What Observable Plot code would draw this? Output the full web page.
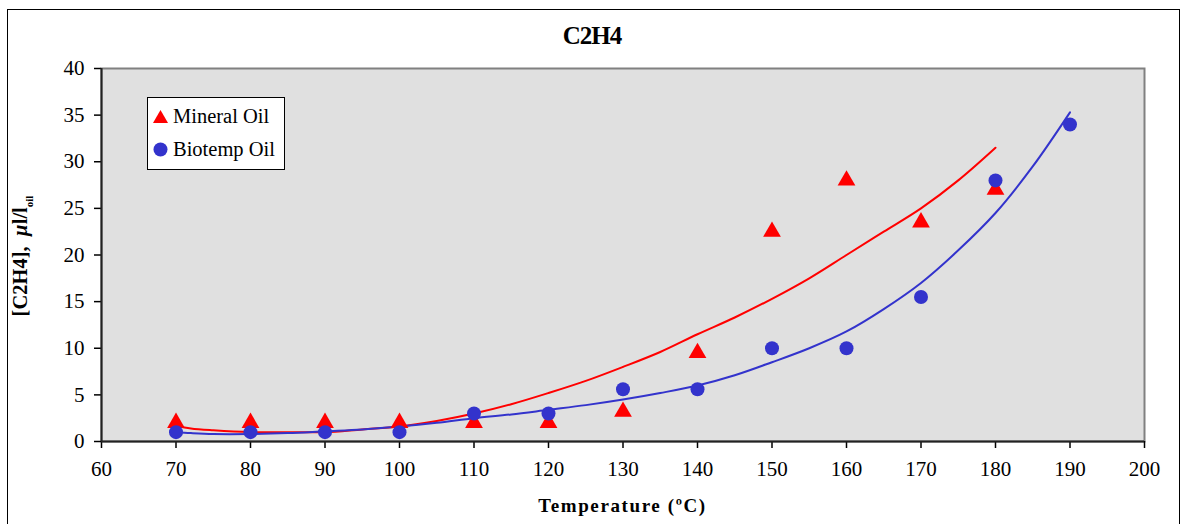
<!DOCTYPE html>
<html>
<head>
<meta charset="utf-8">
<script src="https://cdn.jsdelivr.net/npm/d3@7"></script>
<script src="https://cdn.jsdelivr.net/npm/@observablehq/plot@0.6"></script>
<style>
  html, body { margin: 0; padding: 0; background: #fff; }
  #wrap { position: relative; width: 1184px; height: 524px; overflow: hidden; font-family: "Liberation Serif", "Times New Roman", serif; }
  #chart svg text { font-family: "Liberation Serif", "Times New Roman", serif; font-size: 21px; fill: #000; }
  #border { position: absolute; left: 7px; top: 9px; width: 1173px; height: 520px; border: 1px solid #000; box-sizing: border-box; pointer-events: none; }
  #title { position: absolute; left: 0; width: 1184px; top: 22px; text-align: center; font-weight: bold; font-size: 25px; letter-spacing: -1px; }
  #xlabel { position: absolute; left: 101px; width: 1043px; top: 495px; text-align: center; font-weight: bold; font-size: 19px; letter-spacing: 1.6px; }
  #ylabel { position: absolute; left: 22px; top: 256px; transform: translate(-50%, -50%) rotate(-90deg); white-space: nowrap; font-weight: bold; font-size: 20.5px; }
  #ylabel sub { font-size: 11px; }
  #legend { position: absolute; left: 147px; top: 97px; width: 138px; height: 73px; background: #fff; border: 1px solid #000; box-sizing: border-box; font-size: 20.5px; }
  #legend .row { position: absolute; left: 5px; display: flex; align-items: center; }
  #legend .row span { margin-left: 5px; }
</style>
</head>
<body>
<div id="wrap">
  <div id="chart"></div>
  <div id="title">C2H4</div>
  <div id="xlabel">Temperature (ºC)</div>
  <div id="ylabel">[C2H4], &nbsp;<i>µ</i>l/l<sub>oil</sub></div>
  <div id="legend">
    <div class="row" style="top:7px"><svg width="15" height="15"><path d="M7.5,1 L15,14 L0,14 Z" fill="#ff0000"/></svg><span>Mineral Oil</span></div>
    <div class="row" style="top:40px"><svg width="15" height="15"><circle cx="7.5" cy="7.5" r="7" fill="#3333cc"/></svg><span>Biotemp Oil</span></div>
  </div>
  <div id="border"></div>
</div>
<script>
// Measured points
const mineralTemp = [70, 80, 90, 100, 110, 120, 130, 140, 150, 160, 170, 180];
const mineralVal  = [2.0, 2.0, 2.0, 2.0, 2.0, 2.0, 3.2, 9.5, 22.5, 28.0, 23.5, 27.0];
const biotempTemp = [70, 80, 90, 100, 110, 120, 130, 140, 150, 160, 170, 180, 190];
const biotempVal  = [1.0, 1.0, 1.0, 1.0, 3.0, 3.0, 5.6, 5.6, 10.0, 10.0, 15.5, 28.0, 34.0];

// Trend lines
const mineralTrendT = [70, 72, 75, 80, 85, 90, 95, 100, 105, 110, 115, 120, 125, 130, 135, 140, 145, 150, 155, 160, 165, 170, 175, 180];
const mineralTrendV = [1.7, 1.4, 1.2, 1.0, 1.0, 1.0, 1.3, 1.6, 2.2, 3.0, 4.0, 5.2, 6.5, 8.0, 9.6, 11.5, 13.3, 15.3, 17.5, 20.0, 22.5, 25.0, 28.0, 31.5];
const biotempTrendT = [70, 72, 75, 80, 85, 90, 95, 100, 105, 110, 115, 120, 125, 130, 135, 140, 145, 150, 155, 160, 165, 170, 175, 180, 185, 190];
const biotempTrendV = [1.0, 0.9, 0.8, 0.8, 0.9, 1.1, 1.3, 1.6, 2.0, 2.5, 2.9, 3.4, 3.9, 4.5, 5.2, 6.0, 7.1, 8.5, 10.0, 11.8, 14.2, 17.0, 20.5, 24.5, 29.5, 35.3];

const xTicks = [60, 70, 80, 90, 100, 110, 120, 130, 140, 150, 160, 170, 180, 190, 200];
const yTicks = [0, 5, 10, 15, 20, 25, 30, 35, 40];

const mineral = mineralTemp.map((t, i) => ({t, v: mineralVal[i]}));
const biotemp = biotempTemp.map((t, i) => ({t, v: biotempVal[i]}));
const mineralTrend = mineralTrendT.map((t, i) => ({t, v: mineralTrendV[i]}));
const biotempTrend = biotempTrendT.map((t, i) => ({t, v: biotempTrendV[i]}));

const RED = "#ff0000", BLUE = "#3333cc";

const chart = Plot.plot({
  width: 1184,
  height: 524,
  marginLeft: 101,
  marginRight: 40,
  marginTop: 68,
  marginBottom: 83,
  style: { fontFamily: "Liberation Serif, Times New Roman, serif", fontSize: "21px", background: "transparent", color: "#000" },
  x: { domain: [60, 200] },
  y: { domain: [0, 40] },
  marks: [
    Plot.frame({ fill: "#e0e0e0", stroke: "#808080", strokeWidth: 2 }),
    Plot.axisX({ ticks: xTicks, tickSize: 7, tickPadding: 13, label: null, tickFormat: d => String(d), stroke: "#000", strokeWidth: 1.5, fontSize: 21, fill: "#000" }),
    Plot.axisY({ ticks: yTicks, tickSize: 7, tickPadding: 10, label: null, tickFormat: d => String(d), stroke: "#000", strokeWidth: 1.5, fontSize: 21, fill: "#000" }),
    Plot.ruleX([60], { stroke: "#222", strokeWidth: 2 }),
    Plot.ruleY([0], { stroke: "#222", strokeWidth: 2 }),
    Plot.line(mineralTrend, { x: "t", y: "v", stroke: RED, strokeWidth: 2, curve: "catmull-rom" }),
    Plot.line(biotempTrend, { x: "t", y: "v", stroke: BLUE, strokeWidth: 2, curve: "catmull-rom" }),
    Plot.dot(mineral, { x: "t", y: "v", symbol: "triangle", r: 6.6, fill: RED, stroke: null }),
    Plot.dot(biotemp, { x: "t", y: "v", symbol: "circle", r: 7, fill: BLUE, stroke: null })
  ]
});
document.getElementById("chart").appendChild(chart);
</script>
</body>
</html>
